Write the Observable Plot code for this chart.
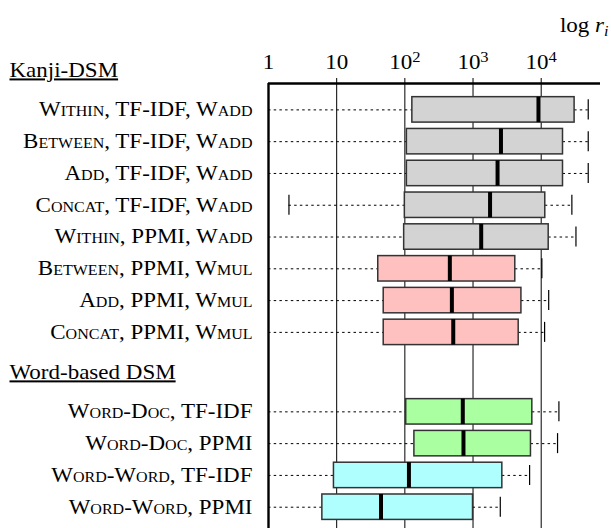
<!DOCTYPE html>
<html><head><meta charset="utf-8">
<script src="https://cdn.jsdelivr.net/npm/d3@7"></script>
<script src="https://cdn.jsdelivr.net/npm/@observablehq/plot@0.6"></script>
<style>body{margin:0;background:#fff} svg text{font-family:"Liberation Serif", "Times New Roman", serif !important;}</style>
</head><body><div id="chart"></div>
<script>
// ---- data (values read as log10 of rank) ----
const labels = ["Within, TF-IDF, Wadd", "Between, TF-IDF, Wadd", "Add, TF-IDF, Wadd", "Concat, TF-IDF, Wadd",
  "Within, PPMI, Wadd", "Between, PPMI, Wmul", "Add, PPMI, Wmul", "Concat, PPMI, Wmul",
  "Word-Doc, TF-IDF", "Word-Doc, PPMI", "Word-Word, TF-IDF", "Word-Word, PPMI"];
const groupOf = ["Kanji-DSM","Kanji-DSM","Kanji-DSM","Kanji-DSM","Kanji-DSM","Kanji-DSM","Kanji-DSM","Kanji-DSM",
  "Word-based DSM","Word-based DSM","Word-based DSM","Word-based DSM"];
const headers = ["Kanji-DSM", "Word-based DSM"];
const lowLog  = [0, 0, 0, 0.30, 0, 0, 0, 0, 0, 0, 0, 0];
const q1Log   = [2.11, 2.03, 2.03, 2.00, 1.99, 1.61, 1.69, 1.69, 2.02, 2.14, 0.96, 0.79];
const medLog  = [3.96, 3.41, 3.36, 3.25, 3.12, 2.66, 2.69, 2.71, 2.85, 2.86, 2.06, 1.65];
const q3Log   = [4.49, 4.32, 4.32, 4.06, 4.11, 3.62, 3.71, 3.67, 3.87, 3.85, 3.43, 3.00];
const highLog = [4.69, 4.69, 4.69, 4.45, 4.51, 4.01, 4.11, 4.05, 4.26, 4.24, 3.83, 3.40];
const boxColors = ["#d3d3d3","#d3d3d3","#d3d3d3","#d3d3d3","#d3d3d3","#ffc0c0","#ffc0c0","#ffc0c0",
  "#aaffa0","#aaffa0","#b0ffff","#b0ffff"];
const tickValues = [10, 100, 1000, 10000];
const tickLabels = ["10", "10^2", "10^3", "10^4"];

// ---- layout rows ----
const rows = labels.map((label, i) => ({
  label,
  pos: i < 8 ? i + 1 : i + 2.5,
  low: 10 ** lowLog[i], q1: 10 ** q1Log[i], med: 10 ** medLog[i], q3: 10 ** q3Log[i], high: 10 ** highLog[i],
  color: boxColors[i]
}));
const headerRows = headers.map((h, j) => ({text: h, pos: j === 0 ? -0.25 : 9.25}));
const yTop = 0.17;
const hb = 0.4, hc = 0.315;
const FF = "Liberation Serif";

const chart = Plot.plot({
  width: 611, height: 528,
  marginLeft: 268, marginRight: 11, marginTop: 83, marginBottom: 0,
  style: {fontFamily: FF, fontSize: "20px", background: "white", color: "black", overflow: "visible"},
  x: {type: "log", domain: [1, 10 ** 4.87]},
  y: {domain: [yTop, yTop + 14], reverse: true, axis: null},
  color: {type: "identity"},
  marks: [
    Plot.ruleX(tickValues, {stroke: "black", strokeWidth: 1}),
    Plot.axisX({anchor: "top", ticks: tickValues, tickSize: 6, tickPadding: 9, label: null,
      tickFormat: (d) => tickLabels[tickValues.indexOf(d)], fontSize: 20, fontFamily: FF, strokeWidth: 1}),
    Plot.axisX({anchor: "top", ticks: [1], tickSize: 0, tickPadding: 15, label: null,
      tickFormat: () => "1", fontSize: 20, fontFamily: FF}),
    Plot.ruleY(rows, {x1: "low", x2: "q1", y: "pos", stroke: "black", strokeWidth: 1, strokeDasharray: "2.5,3.2"}),
    Plot.ruleY(rows, {x1: "q3", x2: "high", y: "pos", stroke: "black", strokeWidth: 1, strokeDasharray: "2.5,3.2"}),
    Plot.ruleX(rows, {x: "high", y1: d => d.pos - hc, y2: d => d.pos + hc, stroke: "black", strokeWidth: 1.2}),
    Plot.ruleX(rows.filter(d => d.low > 1), {x: "low", y1: d => d.pos - hc, y2: d => d.pos + hc, stroke: "black", strokeWidth: 1.2}),
    Plot.rect(rows, {x1: "q1", x2: "q3", y1: d => d.pos - hb, y2: d => d.pos + hb, fill: "color", stroke: "#333", strokeWidth: 1.5}),
    Plot.ruleX(rows, {x: "med", y1: d => d.pos - hb, y2: d => d.pos + hb, stroke: "black", strokeWidth: 4}),
    Plot.ruleX([1], {stroke: "black", strokeWidth: 2.4}),
    Plot.ruleY([yTop], {stroke: "black", strokeWidth: 2.4}),
    Plot.text(rows, {y: "pos", text: "label", frameAnchor: "left", dx: -16, textAnchor: "end",
      fontVariant: "small-caps", fontSize: 20, fontFamily: FF}),
    Plot.text(headerRows, {y: "pos", text: "text", frameAnchor: "left", dx: -259, textAnchor: "start", fontSize: 20, fontFamily: FF}),
    Plot.text(["log r_i"], {frameAnchor: "top-right", dx: 8, dy: -58, textAnchor: "end", lineAnchor: "middle", fontSize: 20, fontFamily: FF})
  ]
});

document.getElementById("chart").appendChild(chart);
const svg = d3.select(chart);
svg.selectAll("text").each(function() {
  const el = this, t = el.textContent;
  const m = /^10\^(\d)$/.exec(t);
  if (m) el.innerHTML = `10<tspan dy="-0.45em" font-size="72%">${m[1]}</tspan>`;
  if (t === "log r_i") el.innerHTML = `log <tspan font-style="italic">r</tspan><tspan font-style="italic" font-size="70%" dy="0.3em">i</tspan>`;
  if (headers.includes(t)) {
    el.setAttribute("style", "text-decoration: underline; text-decoration-thickness: 2px; text-underline-offset: 4px;");
  }
  // the reference's type is slightly stretched horizontally
  const x = +el.getAttribute("x") || 0, y = +el.getAttribute("y") || 0;
  const tr = el.getAttribute("transform") || "";
  el.setAttribute("transform", `${tr} translate(${x},${y}) scale(1.15,1) translate(${-x},${-y})`);
});
</script></body></html>
